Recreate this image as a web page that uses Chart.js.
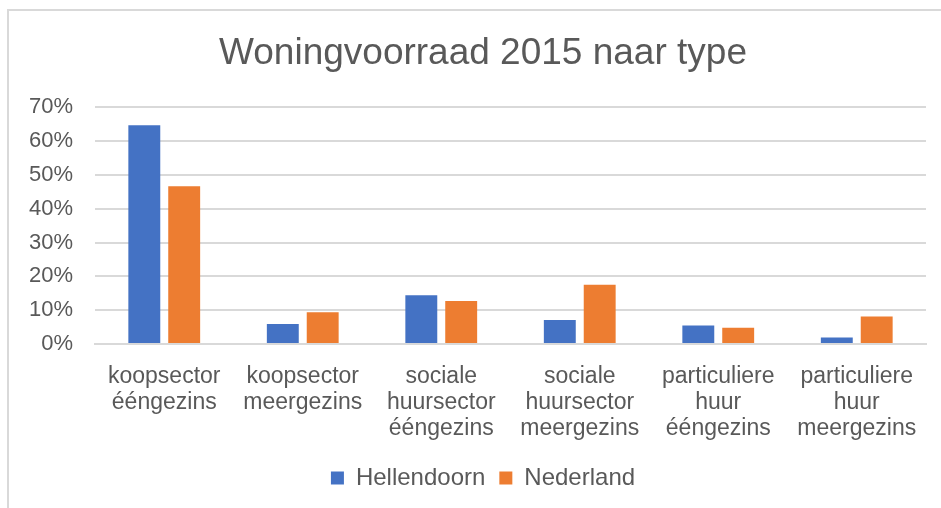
<!DOCTYPE html>
<html>
<head>
<meta charset="utf-8">
<script src="https://cdn.jsdelivr.net/npm/chart.js@4"></script>
<style>
  html, body { margin: 0; padding: 0; background: #fff; }
  #wrap { position: relative; width: 941px; height: 508px; overflow: hidden; }
  #frame { position: absolute; left: 7px; top: 9px; width: 960px; height: 520px; border-left: 2px solid #d9d9d9; border-top: 2px solid #d9d9d9; box-sizing: border-box; }
  canvas { position: absolute; left: 0; top: 0; }
</style>
</head>
<body>
<div id="wrap">
  <div id="frame"></div>
  <canvas id="c" width="941" height="508"></canvas>
</div>
<script>
const titleText = "Woningvoorraad 2015 naar type";
const categories = [
  ["koopsector", "ééngezins"],
  ["koopsector", "meergezins"],
  ["sociale", "huursector", "ééngezins"],
  ["sociale", "huursector", "meergezins"],
  ["particuliere", "huur", "ééngezins"],
  ["particuliere", "huur", "meergezins"]
];
const seriesNames = ["Hellendoorn", "Nederland"];
const hellendoorn = [64.7, 5.9, 14.4, 7.1, 5.5, 1.9];
const nederland = [46.7, 9.4, 12.7, 17.5, 4.8, 8.1];
const colors = ["#4472C4", "#ED7D31"];

const textColor = "#595959";
const fontFamily = "'Liberation Sans', Arial, sans-serif";

new Chart(document.getElementById("c"), {
  type: "bar",
  data: {
    labels: categories,
    datasets: [
      { label: seriesNames[0], data: hellendoorn, backgroundColor: colors[0], borderWidth: 0 },
      { label: seriesNames[1], data: nederland, backgroundColor: colors[1], borderWidth: 0 }
    ]
  },
  options: {
    responsive: false,
    animation: false,
    devicePixelRatio: 1,
    layout: { padding: { top: 32, left: 40, right: 15, bottom: 8 } },
    datasets: { bar: { categoryPercentage: 0.576, barPercentage: 0.8 } },
    plugins: {
      title: {
        display: true,
        text: titleText,
        color: textColor,
        font: { family: fontFamily, size: 37, weight: "normal" },
        padding: { top: 0, bottom: 31 }
      },
      legend: {
        position: "bottom",
        labels: {
          color: textColor,
          font: { family: fontFamily, size: 24 },
          boxWidth: 13,
          boxHeight: 13,
          padding: 14
        }
      },
      tooltip: { enabled: false }
    },
    scales: {
      x: {
        afterFit: function (scale) { scale.height = 108; },
        grid: { display: false, drawTicks: false },
        border: { display: true, color: "#d9d9d9", width: 2 },
        ticks: {
          color: textColor,
          font: { family: fontFamily, size: 23, lineHeight: 1.13 },
          padding: 20,
          maxRotation: 0,
          autoSkip: false
        }
      },
      y: {
        min: 0,
        max: 70,
        afterFit: function (scale) {
          scale.width = 55;
          scale._computeLabelArea = function () { return undefined; };
        },
        grid: { color: "#d9d9d9", lineWidth: 2, drawTicks: false },
        border: { display: false },
        ticks: {
          stepSize: 10,
          color: textColor,
          font: { family: fontFamily, size: 22 },
          padding: 22,
          callback: function (v) { return v + "%"; }
        }
      }
    }
  }
});
</script>
</body>
</html>
